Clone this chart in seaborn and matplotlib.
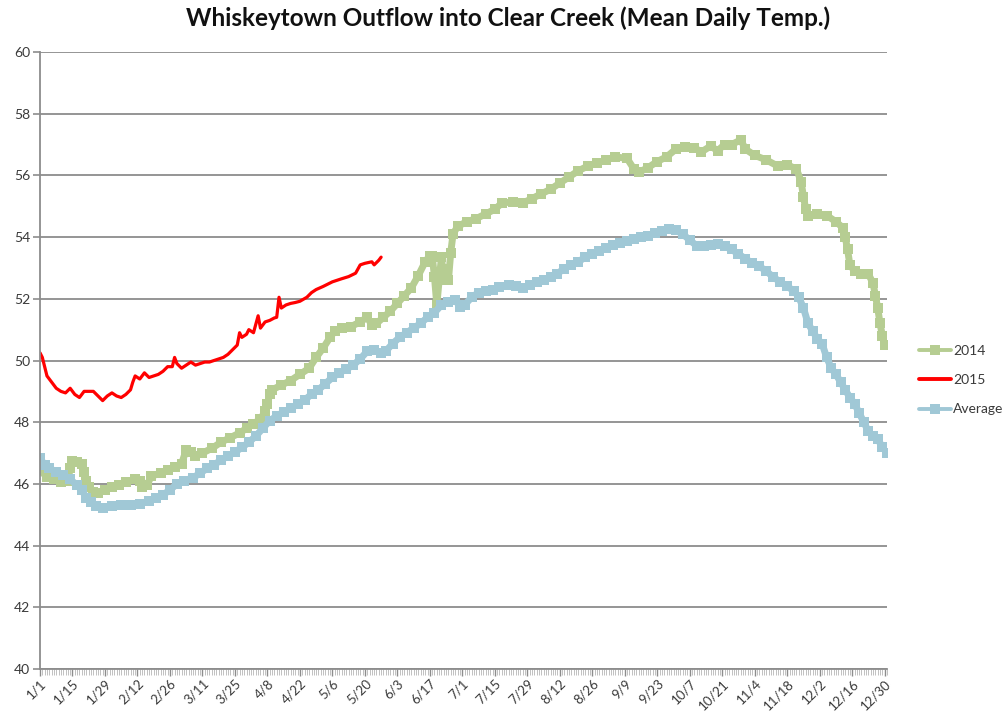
import numpy as np
import pandas as pd
import matplotlib
matplotlib.use("Agg")
import matplotlib.pyplot as plt
import seaborn as sns
from matplotlib.lines import Line2D
from matplotlib.ticker import MultipleLocator

# ---------------- data (day of year, 0 = 1/1) ----------------
tick_labels = ["1/1", "1/15", "1/29", "2/12", "2/26", "3/11", "3/25", "4/8", "4/22",
               "5/6", "5/20", "6/3", "6/17", "7/1", "7/15", "7/29", "8/12", "8/26",
               "9/9", "9/23", "10/7", "10/21", "11/4", "11/18", "12/2", "12/16", "12/30"]

days_2014 = [0, 3, 6, 9, 12, 13, 14, 16, 18, 19, 20, 21, 23, 25, 28, 31, 34, 37, 41, 43, 44,
             46, 48, 52, 55, 58, 61, 63, 65, 67, 70, 74, 78, 82, 86, 89, 92, 95, 97, 98, 99,
             100, 104, 108, 112, 116, 119, 122, 125, 127, 130, 134, 138, 141, 143, 145, 148,
             151, 154, 157, 160, 163, 166, 168, 169, 170, 171, 172, 173, 174, 175, 176, 177,
             178, 180, 184, 188, 192, 196, 199, 204, 208, 212, 216, 220, 224, 228, 232, 236,
             240, 244, 248, 253, 256, 258, 262, 266, 270, 274, 278, 282, 285, 289, 292, 295,
             298, 302, 304, 308, 313, 318, 322, 326, 328, 329, 330, 331, 335, 339, 343, 346,
             347, 348, 349, 351, 354, 357, 359, 360, 361, 362, 363, 364]
temp_2014 = [46.45, 46.22, 46.15, 46.06, 46.1, 46.5, 46.75, 46.72, 46.65, 46.4, 46.1, 45.9,
             45.75, 45.7, 45.8, 45.9, 45.95, 46.05, 46.15, 46.1, 45.9, 45.95, 46.25, 46.35,
             46.45, 46.55, 46.65, 47.1, 47.05, 46.9, 47.0, 47.15, 47.35, 47.5, 47.65, 47.8,
             47.95, 48.1, 48.35, 48.6, 48.9, 49.05, 49.2, 49.35, 49.55, 49.75, 50.1, 50.4,
             50.75, 50.95, 51.05, 51.1, 51.25, 51.4, 51.15, 51.2, 51.4, 51.6, 51.85, 52.1,
             52.35, 52.75, 53.2, 53.4, 53.4, 52.7, 51.8, 52.6, 53.35, 52.6, 52.95, 52.6,
             53.5, 54.1, 54.35, 54.5, 54.6, 54.75, 54.9, 55.1, 55.15, 55.1, 55.25, 55.4,
             55.55, 55.75, 55.95, 56.15, 56.3, 56.4, 56.5, 56.6, 56.55, 56.2, 56.1, 56.25,
             56.45, 56.6, 56.85, 56.92, 56.9, 56.76, 56.95, 56.8, 57.0, 57.0, 57.15, 56.85,
             56.65, 56.5, 56.3, 56.35, 56.2, 55.8, 55.3, 54.9, 54.7, 54.75, 54.7, 54.5,
             54.3, 54.0, 53.6, 53.1, 52.9, 52.8, 52.8, 52.5, 52.1, 51.7, 51.2, 50.8, 50.5]

days_2015 = [0, 1, 2, 3, 5, 7, 9, 11, 13, 15, 17, 19, 21, 23, 25, 27, 29, 31, 33, 35, 37, 39,
             40, 41, 43, 45, 47, 49, 51, 53, 55, 57, 58, 59, 61, 63, 65, 67, 69, 71, 73, 75,
             77, 79, 81, 83, 85, 86, 87, 89, 90, 92, 94, 95, 97, 99, 101, 102, 103, 104, 106,
             108, 110, 112, 115, 117, 119, 122, 126, 130, 133, 136, 138, 140, 143, 144, 146,
             147]
temp_2015 = [50.25, 50.1, 49.8, 49.5, 49.3, 49.1, 49.0, 48.95, 49.1, 48.9, 48.8, 49.0, 49.0,
             49.0, 48.85, 48.7, 48.85, 48.95, 48.85, 48.8, 48.9, 49.05, 49.3, 49.5, 49.4,
             49.6, 49.45, 49.5, 49.55, 49.65, 49.8, 49.8, 50.1, 49.9, 49.75, 49.85, 49.95,
             49.85, 49.9, 49.95, 49.95, 50.0, 50.05, 50.1, 50.2, 50.35, 50.5, 50.9, 50.75,
             50.85, 51.0, 50.9, 51.45, 51.05, 51.25, 51.3, 51.38, 51.4, 52.05, 51.7, 51.8,
             51.85, 51.88, 51.92, 52.05, 52.2, 52.3, 52.4, 52.55, 52.65, 52.72, 52.83, 53.1,
             53.15, 53.2, 53.1, 53.25, 53.35]

days_avg = [0, 2, 4, 7, 10, 13, 16, 18, 20, 22, 24, 27, 31, 35, 39, 43, 47, 50, 53, 56, 59,
            62, 66, 69, 72, 75, 78, 81, 84, 87, 90, 93, 96, 99, 102, 105, 108, 111, 114, 117,
            120, 123, 126, 129, 132, 135, 138, 141, 144, 147, 149, 152, 155, 158, 161, 164,
            167, 170, 173, 176, 179, 181, 183, 186, 189, 192, 195, 198, 202, 205, 208, 211,
            214, 217, 220, 223, 226, 229, 232, 235, 238, 241, 244, 247, 250, 253, 256, 259,
            262, 265, 268, 271, 274, 277, 280, 283, 286, 289, 292, 295, 298, 301, 304, 307,
            310, 313, 316, 319, 322, 325, 327, 329, 331, 333, 335, 337, 339, 341, 343, 345,
            347, 349, 351, 353, 355, 357, 359, 361, 363, 365]
temp_avg = [46.85, 46.6, 46.5, 46.4, 46.3, 46.15, 45.95, 45.8, 45.55, 45.4, 45.28, 45.22,
            45.28, 45.3, 45.32, 45.35, 45.45, 45.55, 45.65, 45.8, 46.0, 46.1, 46.2, 46.35,
            46.5, 46.62, 46.77, 46.9, 47.03, 47.18, 47.35, 47.55, 47.8, 48.05, 48.2, 48.33,
            48.45, 48.58, 48.72, 48.9, 49.05, 49.25, 49.45, 49.6, 49.72, 49.85, 50.05, 50.3,
            50.35, 50.25, 50.3, 50.55, 50.75, 50.9, 51.05, 51.2, 51.4, 51.55, 51.8, 51.9,
            51.95, 51.75, 51.8, 52.05, 52.2, 52.25, 52.3, 52.38, 52.45, 52.42, 52.35, 52.45,
            52.55, 52.6, 52.7, 52.82, 52.98, 53.1, 53.2, 53.35, 53.45, 53.55, 53.65, 53.75,
            53.82, 53.88, 53.95, 54.0, 54.05, 54.12, 54.2, 54.25, 54.22, 54.1, 53.9, 53.72,
            53.7, 53.75, 53.78, 53.7, 53.6, 53.45, 53.3, 53.15, 53.05, 52.9, 52.7, 52.55,
            52.4, 52.25, 52.05, 51.7, 51.2, 50.95, 50.7, 50.55, 50.1, 49.75, 49.55, 49.3,
            49.05, 48.8, 48.6, 48.3, 48.0, 47.7, 47.55, 47.45, 47.2, 47.0]

series_names = ["2014", "2015", "Average"]
title = "Whiskeytown Outflow into Clear Creek (Mean Daily Temp.)"

# ---------------- style ----------------
sns.set_theme(style="white")
plt.rcParams["font.family"] = ["Lato", "DejaVu Sans"]

GREEN = "#B6CD92"
BLUE = "#A0C8D6"
RED = "#FF0000"
GRID = "#8C8C8C"
TXT = "#3A3A3A"

fig = plt.figure(figsize=(10.07, 7.15), dpi=100)
ax = fig.add_axes([40 / 1007, 46 / 715, 847 / 1007, 617 / 715])

common = dict(solid_joinstyle="bevel", solid_capstyle="butt", markeredgewidth=0)
sns.lineplot(x=days_2014, y=temp_2014, ax=ax, color=GREEN, linewidth=5.0,
             marker="s", markersize=6.6, sort=False, **common)
sns.lineplot(x=days_2015, y=temp_2015, ax=ax, color=RED, linewidth=2.3, sort=False,
             solid_joinstyle="round")
sns.lineplot(x=days_avg, y=temp_avg, ax=ax, color=BLUE, linewidth=5.0,
             marker="s", markersize=6.6, sort=False, **common)

ax.set_xlabel("")
ax.set_ylabel("")
ax.set_xlim(0, 365)
ax.set_ylim(40, 60)
ax.set_yticks(np.arange(40, 61, 2))

tick_pos = [pd.Timestamp("2016/" + t).dayofyear - 1 for t in tick_labels]
ax.set_xticks(tick_pos)
ax.set_xticklabels(tick_labels, rotation=45, ha="right", rotation_mode="anchor")
ax.xaxis.set_minor_locator(MultipleLocator(1))

ax.yaxis.grid(True, color=GRID, linewidth=1.3)
ax.xaxis.grid(False)
ax.set_axisbelow(True)
for s in ["top", "right"]:
    ax.spines[s].set_visible(False)
for s in ["left", "bottom"]:
    ax.spines[s].set_color(GRID)
    ax.spines[s].set_linewidth(1.3)

ax.tick_params(axis="y", left=True, length=5, width=1.2, color=GRID, labelsize=10,
               labelcolor=TXT, pad=2)
ax.tick_params(axis="x", which="major", bottom=True, length=5, width=1.0, color=GRID,
               labelsize=9.5, labelcolor=TXT, pad=1)
ax.tick_params(axis="x", which="minor", bottom=True, length=4, width=0.5, color="#A8A8A8")

fig.text(0.505, 1 - 18 / 715, title, ha="center", va="center", fontsize=17.5,
         fontweight="bold", color="#111111")

handles = [
    Line2D([], [], color=GREEN, lw=2.8, marker="s", markersize=6.5, markeredgewidth=0),
    Line2D([], [], color=RED, lw=2.8),
    Line2D([], [], color=BLUE, lw=2.8, marker="s", markersize=6.5, markeredgewidth=0),
]
fig.legend(handles=handles, labels=series_names, loc="center left",
           bbox_to_anchor=(912 / 1007, 1 - 380 / 715), frameon=False, fontsize=10,
           handlelength=2.3, handletextpad=0.15, labelspacing=1.25, borderpad=0,
           labelcolor=TXT)

fig.savefig("out.png", dpi=100)
